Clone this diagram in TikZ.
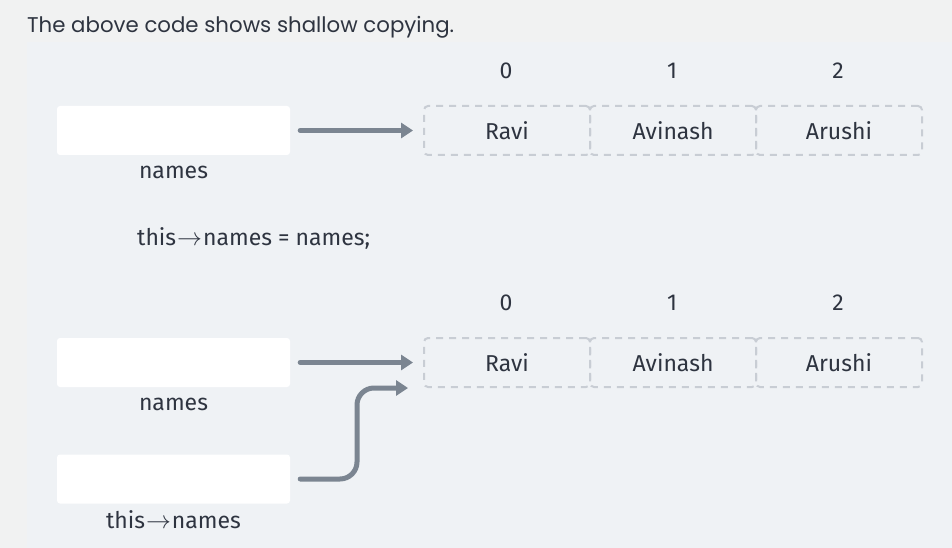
\documentclass[tikz,border=0pt]{standalone}
\usepackage{fontspec}
\setmainfont{Fira Sans}
\newfontfamily\titlefont{Poppins}
\usetikzlibrary{arrows.meta,positioning}
\definecolor{outerbg}{HTML}{F1F2F2}
\definecolor{panelbg}{HTML}{EFF2F5}
\definecolor{txt}{HTML}{2E3440}
\definecolor{arr}{HTML}{7B8591}
\definecolor{dash}{HTML}{C8CDD4}
\newcommand{\ptrarrow}{\kern1pt$\rightarrow$\kern1pt}
\tikzset{
  varbox/.style={fill=white,rounded corners=3pt,minimum width=233pt,minimum height=49pt,inner sep=0pt,draw=none},
  cell/.style={draw=dash,line width=2pt,dash pattern=on 7pt off 6pt,rounded corners=4pt,minimum width=166pt,minimum height=49pt,inner sep=0pt,font=\fontsize{23}{27}\selectfont,text=txt},
  idx/.style={font=\fontsize{23}{27}\selectfont,text=txt,inner sep=0pt},
  lbl/.style={font=\fontsize{23}{27}\selectfont,text=txt,inner sep=0pt},
  ptr/.style={draw=arr,line width=5pt,line cap=round,-{Triangle[length=12pt,width=15pt]}},
}
\begin{document}
\begin{tikzpicture}[x=1pt,y=-1pt]
\fill[outerbg] (0,0) rectangle (952,548);
\fill[panelbg] (27,42) rectangle (952,548);
\useasboundingbox (0,0) rectangle (952,548);
\node[anchor=base west,inner sep=0pt,text=txt,font=\titlefont\fontsize{21.3}{25}\selectfont] (title) at (27,33) {The above code shows shallow copying.};
% first diagram
\node[varbox] (b1) at (173.5,130.5) {};
\node[lbl] (l1) at (173.5,172) {names};
\node[cell] (a0) at (507,130.5) {Ravi};
\node[cell] (a1) at (673,130.5) {Avinash};
\node[cell] (a2) at (839,130.5) {Arushi};
\node[idx] (i0) at (506,71) {0};
\node[idx] (i1) at (672,71) {1};
\node[idx] (i2) at (838,71) {2};
\draw[ptr] ([xshift=10pt]b1.east) -- ([xshift=-10pt]a0.west);
\node[lbl,anchor=west] (code) at (137,238) {this\ptrarrow names = names;};
% second diagram
\node[varbox] (b2) at (173.5,362.5) {};
\node[lbl] (l2) at (173.5,404) {names};
\node[varbox] (b3) at (173.5,479) {};
\node[lbl] (l3) at (173.5,520) {this\ptrarrow names};
\node[cell] (c0) at (507,362.5) {Ravi};
\node[cell] (c1) at (673,362.5) {Avinash};
\node[cell] (c2) at (839,362.5) {Arushi};
\node[idx] (j0) at (506,303) {0};
\node[idx] (j1) at (672,303) {1};
\node[idx] (j2) at (838,303) {2};
\draw[ptr] ([xshift=10pt]b2.east) -- ([xshift=-10pt]c0.west);
\coordinate (bend) at (357,0);
\draw[ptr,rounded corners=17pt] ([xshift=10pt]b3.east) -- (bend |- b3.east) -- (bend |- c0.south) -- ([xshift=-15pt]c0.south west);
\end{tikzpicture}
\end{document}
